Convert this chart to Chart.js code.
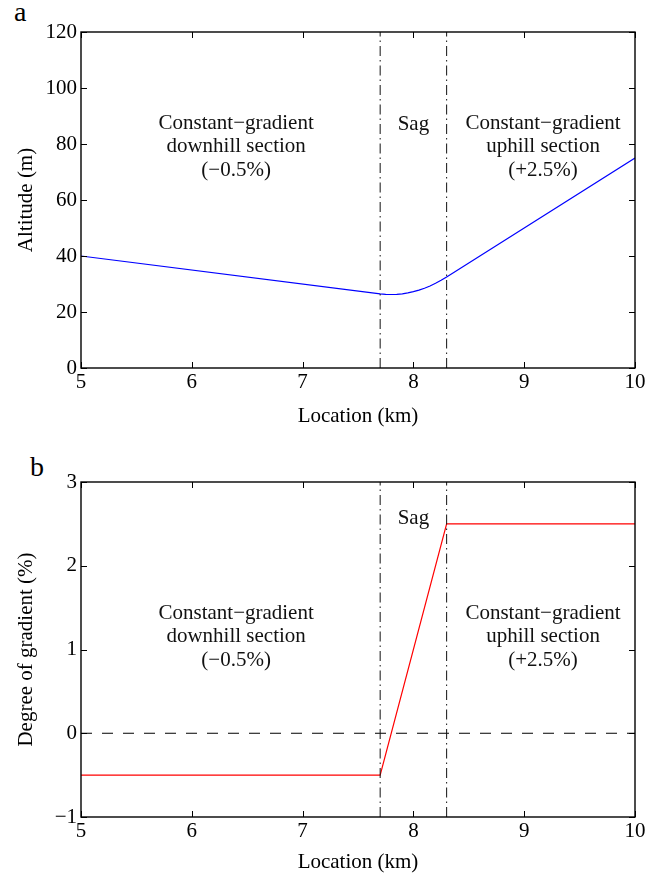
<!DOCTYPE html>
<html>
<head>
<meta charset="utf-8">
<script src="https://cdn.jsdelivr.net/npm/chart.js@4.4.1/dist/chart.umd.min.js"></script>
<style>
  body { margin: 0; background: #fff; }
  #wrap { position: relative; width: 657px; height: 878px; }
  canvas { position: absolute; left: 0; }
  .panel { position: absolute; font-family: "Liberation Serif", "Times New Roman", serif; font-size: 28px; color: #000; }
</style>
</head>
<body>
<div id="wrap">
  <div class="panel" style="left:14px; top:-4px;">a</div>
  <div class="panel" style="left:30px; top:451px;">b</div>
  <canvas id="chartA" width="657" height="439" style="top:0"></canvas>
  <canvas id="chartB" width="657" height="439" style="top:439px"></canvas>
</div>
<script>
// Panel a: altitude profile (km, m)
const altLocation = [5, 7.7, 7.75, 7.8, 7.85, 7.9, 7.95, 8.0, 8.05, 8.1, 8.15, 8.2, 8.25, 8.3, 10];
const altitude = [40, 26.5, 26.31, 26.25, 26.31, 26.5, 26.81, 27.25, 27.81, 28.5, 29.31, 30.25, 31.31, 32.5, 75];

// Panel b: degree of gradient (km, %)
const gradLocation = [5, 7.7, 8.3, 10];
const gradient = [-0.5, -0.5, 2.5, 2.5];

// Sag boundaries (km)
const sagBounds = [7.7, 8.3];

// Axis ticks
const xTicks = [5, 6, 7, 8, 9, 10];
const altTicks = [0, 20, 40, 60, 80, 100, 120];
const gradTicks = [-1, 0, 1, 2, 3];

// Text labels: x, y in data units
const notesA = [
  { x: 6.4, y: 79, lines: ["Constant\u2212gradient", "downhill section", "(\u22120.5%)"] },
  { x: 8.0, y: 87, lines: ["Sag"] },
  { x: 9.17, y: 79, lines: ["Constant\u2212gradient", "uphill section", "(+2.5%)"] }
];
const notesB = [
  { x: 6.4, y: 1.15, lines: ["Constant\u2212gradient", "downhill section", "(\u22120.5%)"] },
  { x: 8.0, y: 2.57, lines: ["Sag"] },
  { x: 9.17, y: 1.15, lines: ["Constant\u2212gradient", "uphill section", "(+2.5%)"] }
];

const FONT = '"Liberation Serif", "Times New Roman", serif';
const FS = 21;

function pts(xs, ys) { return xs.map((x, i) => ({ x: x, y: ys[i] })); }

const boxTicks = {
  id: 'boxTicks',
  afterDraw(chart) {
    const { ctx, chartArea: a, scales } = chart;
    const x = scales.x, y = scales.y;
    ctx.save();
    ctx.strokeStyle = '#000';
    ctx.lineWidth = 1;
    ctx.beginPath();
    x.ticks.forEach(t => {
      const p = Math.round(x.getPixelForValue(t.value)) + 0.5;
      ctx.moveTo(p, a.bottom); ctx.lineTo(p, a.bottom - 6);
      ctx.moveTo(p, a.top); ctx.lineTo(p, a.top + 6);
    });
    y.ticks.forEach(t => {
      const p = Math.round(y.getPixelForValue(t.value)) + 0.5;
      ctx.moveTo(a.left, p); ctx.lineTo(a.left + 6, p);
      ctx.moveTo(a.right, p); ctx.lineTo(a.right - 6, p);
    });
    ctx.stroke();
    ctx.lineWidth = 1.4;
    ctx.strokeRect(a.left, a.top, a.right - a.left, a.bottom - a.top);
    // text notes
    const notes = chart.options.plugins.boxTicks.notes || [];
    ctx.fillStyle = '#111';
    ctx.font = FS + 'px ' + FONT;
    ctx.textAlign = 'center';
    ctx.textBaseline = 'middle';
    notes.forEach(n => {
      const cx = x.getPixelForValue(n.x), cy = y.getPixelForValue(n.y);
      const off = (n.lines.length - 1) / 2;
      n.lines.forEach((s, i) => ctx.fillText(s, cx, cy + (i - off) * 23.5));
    });
    ctx.restore();
  }
};

function makeChart(id, cfg) {
  const sagDash = [10, 4, 1.5, 4];
  const datasets = [
    { data: pts([sagBounds[0], sagBounds[0]], [cfg.min, cfg.max]), borderColor: '#111', borderWidth: 1, borderDash: sagDash },
    { data: pts([sagBounds[1], sagBounds[1]], [cfg.min, cfg.max]), borderColor: '#111', borderWidth: 1, borderDash: sagDash }
  ].concat(cfg.extra).concat([
    { data: pts(cfg.xs, cfg.ys), borderColor: cfg.color, borderWidth: 1.2 }
  ]);
  return new Chart(document.getElementById(id), {
    type: 'line',
    data: { datasets: datasets },
    options: {
      responsive: false,
      animation: false,
      devicePixelRatio: 1,
      layout: { padding: { left: 13.4, right: 22, top: cfg.top, bottom: cfg.padBottom } },
      elements: { point: { radius: 0 }, line: { tension: 0, fill: false } },
      plugins: { legend: { display: false }, tooltip: { enabled: false }, boxTicks: { notes: cfg.notes } },
      scales: {
        x: {
          type: 'linear', min: 5, max: 10,
          afterBuildTicks: s => { s.ticks = xTicks.map(v => ({ value: v })); },
          afterFit: s => { s.height = cfg.xHeight; },
          grid: { display: false, drawTicks: false },
          border: { display: false },
          ticks: { color: '#000', padding: 2, font: { family: FONT, size: FS }, maxRotation: 0 },
          title: { display: true, text: 'Location (km)', color: '#000', padding: 0, font: { family: FONT, size: FS } }
        },
        y: {
          type: 'linear', min: cfg.min, max: cfg.max,
          afterBuildTicks: s => { s.ticks = cfg.yTicks.map(v => ({ value: v })); },
          afterFit: s => { s.width = 67.6; },
          grid: { display: false, drawTicks: false },
          border: { display: false },
          ticks: { color: '#000', padding: 4, font: { family: FONT, size: FS },
            callback: v => String(v).replace('-', '\u2212') },
          title: { display: true, text: cfg.yTitle, color: '#000', padding: 0, font: { family: FONT, size: FS } }
        }
      }
    },
    plugins: [boxTicks]
  });
}

makeChart('chartA', {
  xs: altLocation, ys: altitude, color: '#0000ff',
  min: 0, max: 120, yTicks: altTicks, yTitle: 'Altitude (m)',
  top: 32, xHeight: 60.6, padBottom: 10.4, notes: notesA, extra: []
});

makeChart('chartB', {
  xs: gradLocation, ys: gradient, color: '#ff0000',
  min: -1, max: 3, yTicks: gradTicks, yTitle: 'Degree of gradient (%)',
  top: 43, xHeight: 57.6, padBottom: 3.4, notes: notesB,
  extra: [{ data: pts([5, 10], [0, 0]), borderColor: '#000', borderWidth: 1, borderDash: [11, 10] }]
});
</script>
</body>
</html>
